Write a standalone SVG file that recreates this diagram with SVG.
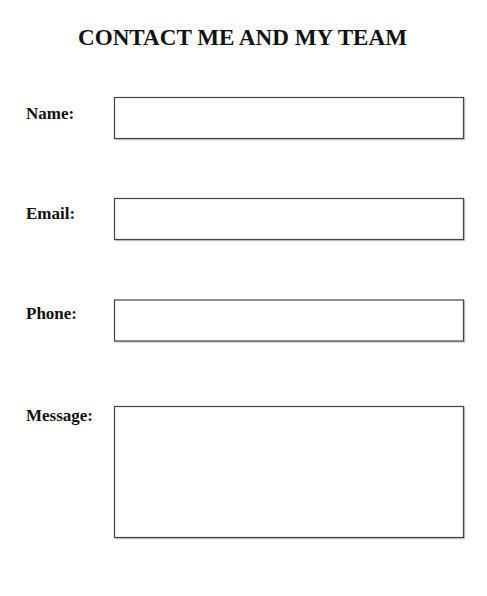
<svg xmlns="http://www.w3.org/2000/svg" width="487" height="596" viewBox="0 0 487 596">
<style>
.lbl{font-family:"Liberation Serif","Times New Roman",serif;font-weight:bold;font-size:17px;fill:#111}
.ttl{font-family:"Liberation Serif","Times New Roman",serif;font-weight:bold;font-size:22.5px;fill:#111}
.box{fill:#fff;stroke:#444;stroke-width:1.2}
.sh{fill:none;stroke:#c8c8c8;stroke-width:1.5}
</style>
<rect width="487" height="596" fill="#fff"/>
<text class="ttl" x="242.5" y="45" text-anchor="middle" textLength="329" lengthAdjust="spacingAndGlyphs">CONTACT ME AND MY TEAM</text>
<g id="name">
<text class="lbl" x="26" y="119">Name:</text>
<rect class="sh" x="115.5" y="98.5" width="349" height="41"/>
<rect class="box" x="114.5" y="97.5" width="349" height="41"/>
</g>
<g id="email">
<text class="lbl" x="26" y="219">Email:</text>
<rect class="sh" x="115.5" y="199.5" width="349" height="41"/>
<rect class="box" x="114.5" y="198.5" width="349" height="41"/>
</g>
<g id="phone">
<text class="lbl" x="26" y="318.5">Phone:</text>
<rect class="sh" x="115.5" y="301" width="349" height="41"/>
<rect class="box" x="114.5" y="300" width="349" height="41"/>
</g>
<g id="message">
<text class="lbl" x="26" y="421">Message:</text>
<rect class="sh" x="115.5" y="407.5" width="349" height="131"/>
<rect class="box" x="114.5" y="406.5" width="349" height="131"/>
</g>
<g id="connectors"/>
</svg>
